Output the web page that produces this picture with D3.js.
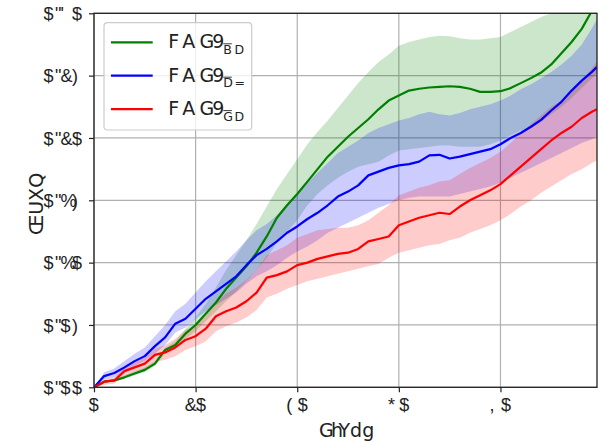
<!DOCTYPE html>
<html>
<head>
<meta charset="utf-8">
<script src="https://cdn.jsdelivr.net/npm/d3@7"></script>
<style>
  html, body { margin: 0; padding: 0; background: #fff; }
  svg { display: block; }
</style>
</head>
<body>
<div id="chart"></div>
<script>
// x positions (steps)
const xs = [0, 2, 4, 6, 8, 10, 12, 14, 16, 18, 20, 22, 24, 26, 28, 30, 32, 34, 36, 38,
  40, 42, 44, 46, 48, 50, 52, 54, 56, 58, 60, 62, 64, 66, 68, 70, 72, 74, 76, 78,
  80, 82, 84, 86, 88, 90, 92, 94, 96, 98, 99];

const greenMean = [0, 0.0045, 0.0055, 0.008, 0.011, 0.014, 0.019, 0.030, 0.034, 0.043,
  0.050, 0.059, 0.068, 0.079, 0.088, 0.097, 0.108, 0.121, 0.136, 0.146,
  0.155, 0.165, 0.175, 0.185, 0.193, 0.201, 0.208, 0.215, 0.223, 0.230,
  0.234, 0.238, 0.2395, 0.2405, 0.241, 0.2415, 0.241, 0.2395, 0.237, 0.237,
  0.2375, 0.240, 0.244, 0.248, 0.2525, 0.259, 0.268, 0.277, 0.2875, 0.302, 0.31];
const greenLo = [0, 0.004, 0.0045, 0.007, 0.0095, 0.012, 0.017, 0.027, 0.031, 0.039,
  0.045, 0.053, 0.061, 0.069, 0.077, 0.085, 0.094, 0.104, 0.116, 0.125,
  0.134, 0.146, 0.155, 0.162, 0.168, 0.173, 0.177, 0.179, 0.181, 0.186,
  0.190, 0.191, 0.192, 0.193, 0.194, 0.194, 0.193, 0.193, 0.193, 0.195,
  0.198, 0.202, 0.206, 0.208, 0.213, 0.219, 0.225, 0.232, 0.240, 0.248, 0.252];
const greenHi = [0, 0.005, 0.0065, 0.0095, 0.013, 0.016, 0.021, 0.032, 0.037, 0.047,
  0.056, 0.067, 0.080, 0.094, 0.106, 0.118, 0.131, 0.145, 0.159, 0.171,
  0.183, 0.195, 0.205, 0.214, 0.224, 0.234, 0.244, 0.253, 0.261, 0.267,
  0.274, 0.277, 0.279, 0.281, 0.282, 0.2815, 0.280, 0.279, 0.279, 0.280,
  0.281, 0.285, 0.289, 0.293, 0.297, 0.300, 0.305, 0.312, 0.320, 0.330, 0.335];

const blueMean = [0, 0.009, 0.0115, 0.016, 0.021, 0.025, 0.033, 0.040, 0.051, 0.055,
  0.063, 0.071, 0.077, 0.083, 0.089, 0.098, 0.106, 0.111, 0.117, 0.124,
  0.129, 0.135, 0.140, 0.146, 0.153, 0.157, 0.162, 0.170, 0.173, 0.176,
  0.178, 0.179, 0.181, 0.186, 0.1865, 0.1835, 0.185, 0.187, 0.189, 0.191,
  0.195, 0.200, 0.204, 0.209, 0.2145, 0.222, 0.229, 0.238, 0.246, 0.253, 0.257];
const blueLo = [0, 0.006, 0.008, 0.012, 0.017, 0.021, 0.027, 0.034, 0.044, 0.048,
  0.055, 0.061, 0.066, 0.071, 0.076, 0.083, 0.089, 0.093, 0.098, 0.104,
  0.109, 0.113, 0.118, 0.124, 0.128, 0.132, 0.136, 0.140, 0.144, 0.147,
  0.150, 0.152, 0.153, 0.153, 0.153, 0.153, 0.155, 0.157, 0.159, 0.161,
  0.164, 0.168, 0.172, 0.176, 0.180, 0.184, 0.188, 0.192, 0.196, 0.199, 0.201];
const blueHi = [0, 0.012, 0.015, 0.021, 0.027, 0.032, 0.041, 0.050, 0.061, 0.067,
  0.076, 0.085, 0.093, 0.101, 0.109, 0.118, 0.126, 0.131, 0.138, 0.147,
  0.155, 0.164, 0.172, 0.180, 0.188, 0.193, 0.198, 0.204, 0.208, 0.211,
  0.214, 0.216, 0.219, 0.221, 0.219, 0.218, 0.220, 0.223, 0.225, 0.227,
  0.230, 0.234, 0.239, 0.243, 0.248, 0.253, 0.259, 0.266, 0.275, 0.288, 0.295];

const redMean = [0, 0.0045, 0.0055, 0.013, 0.016, 0.019, 0.026, 0.028, 0.032, 0.038,
  0.041, 0.047, 0.057, 0.061, 0.064, 0.069, 0.076, 0.088, 0.090, 0.093,
  0.098, 0.100, 0.103, 0.105, 0.107, 0.108, 0.111, 0.117, 0.119, 0.121,
  0.130, 0.133, 0.136, 0.138, 0.140, 0.139, 0.145, 0.150, 0.154, 0.158,
  0.163, 0.170, 0.177, 0.184, 0.191, 0.198, 0.204, 0.209, 0.216, 0.221, 0.223];
const redLo = [0, 0.002, 0.003, 0.009, 0.012, 0.014, 0.020, 0.022, 0.025, 0.030,
  0.033, 0.037, 0.045, 0.049, 0.052, 0.056, 0.062, 0.072, 0.075, 0.079,
  0.082, 0.085, 0.087, 0.089, 0.091, 0.093, 0.095, 0.097, 0.099, 0.104,
  0.108, 0.110, 0.112, 0.114, 0.115, 0.118, 0.120, 0.124, 0.127, 0.130,
  0.134, 0.139, 0.145, 0.150, 0.156, 0.161, 0.166, 0.171, 0.175, 0.180, 0.182];
const redHi = [0, 0.006, 0.008, 0.016, 0.020, 0.024, 0.031, 0.034, 0.039, 0.046,
  0.050, 0.057, 0.068, 0.075, 0.080, 0.086, 0.094, 0.106, 0.110, 0.114,
  0.120, 0.123, 0.126, 0.127, 0.128, 0.128, 0.130, 0.134, 0.140, 0.146,
  0.154, 0.157, 0.160, 0.162, 0.165, 0.166, 0.171, 0.176, 0.180, 0.184,
  0.189, 0.196, 0.204, 0.211, 0.218, 0.225, 0.230, 0.238, 0.246, 0.256, 0.262];

// ticks as they appear in the picture, plus the values they stand for
const xTicks = [0, 20, 40, 60, 80];
const xTickText = ["$", "&$", "($", "*$", ",$"];
const yTicks = [0, 0.05, 0.10, 0.15, 0.20, 0.25, 0.30];
const yTickText = ['$"$$', '$"$)', '$"%$', '$"%)', '$"&$', '$"&)', '$"\'$'];

const legendMain = "FAG9";
const legendSubs = ["BD", "D=", "GD"];
const xLabel = "GhYdg";
const yLabel = "ŒUXQ";

const series = [
  { color: "green", mean: greenMean, lo: greenLo, hi: greenHi, sub: legendSubs[0] },
  { color: "blue",  mean: blueMean,  lo: blueLo,  hi: blueHi,  sub: legendSubs[1] },
  { color: "red",   mean: redMean,   lo: redLo,   hi: redHi,   sub: legendSubs[2] }
];

const W = 607, H = 441;
const FONT = '"DejaVu Sans", sans-serif';
const PLOT = { left: 94, right: 597, top: 13.3, bottom: 387.3 };

const x = d3.scaleLinear().domain([0, 99]).range([PLOT.left, PLOT.right]);
const y = d3.scaleLinear().domain([0, 0.30]).range([PLOT.bottom, PLOT.top]);

const svg = d3.select("#chart").append("svg")
  .attr("width", W).attr("height", H)
  .style("font-family", FONT);

// glyphs are placed at the advance widths of the characters they replace
const meas = document.createElement("canvas").getContext("2d");
function advances(str, size) {
  meas.font = `${size}px "DejaVu Sans"`;
  return [...str].map(c => meas.measureText(c).width);
}
function spacedText(sel, glyphs, orig, size, x0, anchor) {
  const adv = advances(orig, size);
  const total = d3.sum(adv);
  let cx = anchor === "end" ? x0 - total : anchor === "middle" ? x0 - total / 2 : x0;
  sel.text(null).attr("text-anchor", "start");
  [...glyphs].forEach((g, i) => {
    sel.append("tspan").attr("x", cx).text(g);
    cx += adv[i] || 0;
  });
}

svg.append("defs").append("clipPath").attr("id", "clip")
  .append("rect")
  .attr("x", PLOT.left).attr("y", PLOT.top)
  .attr("width", PLOT.right - PLOT.left).attr("height", PLOT.bottom - PLOT.top);

// grid
const grid = svg.append("g").attr("stroke", "#b0b0b0").attr("stroke-width", 1.2);
grid.selectAll(".gx").data(xTicks).join("line")
  .attr("x1", d => x(d)).attr("x2", d => x(d))
  .attr("y1", PLOT.top).attr("y2", PLOT.bottom);
grid.selectAll(".gy").data(yTicks).join("line")
  .attr("y1", d => y(d)).attr("y2", d => y(d))
  .attr("x1", PLOT.left).attr("x2", PLOT.right);

const plot = svg.append("g").attr("clip-path", "url(#clip)");

const area = d3.area()
  .x((d, i) => x(xs[i]))
  .y0(d => y(d[0]))
  .y1(d => y(d[1]));
const line = d3.line()
  .x((d, i) => x(xs[i]))
  .y(d => y(d));

series.forEach(s => {
  plot.append("path")
    .datum(s.lo.map((v, i) => [v, s.hi[i]]))
    .attr("d", area)
    .attr("fill", s.color)
    .attr("fill-opacity", 0.2);
});
series.forEach(s => {
  plot.append("path")
    .datum(s.mean)
    .attr("d", line)
    .attr("fill", "none")
    .attr("stroke", s.color)
    .attr("stroke-width", 2.2)
    .attr("stroke-linejoin", "round");
});

// axes
const TICK_FS = 18;
const xAxis = svg.append("g")
  .attr("transform", `translate(0,${PLOT.bottom})`)
  .call(d3.axisBottom(x).tickValues(xTicks).tickSize(5).tickSizeOuter(0));
xAxis.selectAll(".tick text").each(function (d, i) {
  const t = d3.select(this).attr("y", 23.5).attr("dy", null)
    .attr("font-size", TICK_FS).attr("fill", "#222");
  spacedText(t, xTickText[i], String(d), TICK_FS, 0, "middle");
});

const yAxis = svg.append("g")
  .attr("transform", `translate(${PLOT.left},0)`)
  .call(d3.axisLeft(y).tickValues(yTicks).tickSize(5).tickSizeOuter(0));
yAxis.selectAll(".tick text").each(function (d, i) {
  const t = d3.select(this).attr("dy", "0.35em")
    .attr("font-size", TICK_FS).attr("fill", "#222");
  spacedText(t, yTickText[i], d3.format(".2f")(d), TICK_FS, -10.5, "end");
});
svg.selectAll(".domain").remove();
svg.selectAll(".tick line").attr("stroke", "#222").attr("stroke-width", 1.2);

svg.append("rect")
  .attr("x", PLOT.left).attr("y", PLOT.top)
  .attr("width", PLOT.right - PLOT.left).attr("height", PLOT.bottom - PLOT.top)
  .attr("fill", "none").attr("stroke", "#222").attr("stroke-width", 1.3);

// axis labels
const xl = svg.append("text")
  .attr("y", 437).attr("font-size", 19).attr("fill", "#222");
spacedText(xl, xLabel, "Steps", 19, (PLOT.left + PLOT.right) / 2, "middle");

svg.append("text")
  .attr("transform", "translate(43,204) rotate(-90)")
  .attr("text-anchor", "middle")
  .attr("font-size", 19).attr("fill", "#222")
  .text(yLabel);

// legend
const leg = svg.append("g");
leg.append("rect")
  .attr("x", 104).attr("y", 22.7).attr("width", 147.7).attr("height", 107.3)
  .attr("rx", 3.5)
  .attr("fill", "#fff").attr("fill-opacity", 0.8)
  .attr("stroke", "#cccccc").attr("stroke-width", 1.2);

series.forEach((s, i) => {
  const base = 48.3 + i * 33.4;
  leg.append("line")
    .attr("x1", 111).attr("x2", 152.7)
    .attr("y1", base - 6).attr("y2", base - 6)
    .attr("stroke", s.color).attr("stroke-width", 2.2);
  const t = leg.append("text").attr("y", base)
    .attr("font-size", 19).attr("fill", "#222");
  spacedText(t, legendMain, "RMSE", 20, 168.3, "start");
  const subX = 168.3 + 55;
  const st = leg.append("text").attr("y", base + 5.5)
    .attr("font-size", 12.5).attr("fill", "#222");
  spacedText(st, s.sub, "NP", 15, subX, "start");
  leg.append("line")
    .attr("x1", subX).attr("x2", subX + 8.5)
    .attr("y1", base - 4.5).attr("y2", base - 4.5)
    .attr("stroke", "#222").attr("stroke-width", 0.9);
});
</script>
</body>
</html>
